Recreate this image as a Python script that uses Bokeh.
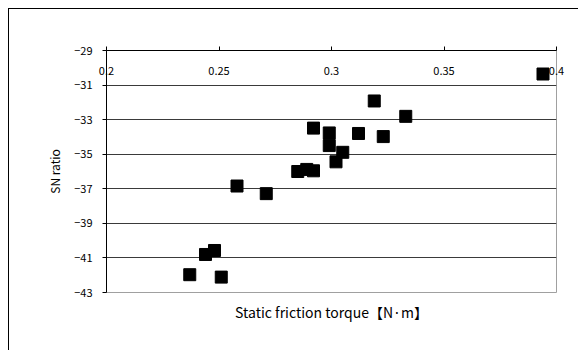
from bokeh.plotting import figure
from bokeh.models import LinearAxis, FixedTicker, Range1d
from bokeh.embed import file_html
from bokeh.resources import INLINE

# data
friction_torque = [0.394, 0.319, 0.333, 0.292, 0.299, 0.312, 0.323, 0.299, 0.305, 0.302,
                   0.285, 0.289, 0.292, 0.258, 0.271, 0.248, 0.244, 0.237, 0.251]
sn_ratio = [-30.36, -31.92, -32.81, -33.49, -33.77, -33.80, -33.98, -34.50, -34.89, -35.44,
            -36.00, -35.88, -35.96, -36.84, -37.28, -40.57, -40.80, -41.97, -42.11]
y_ticks = [-29, -31, -33, -35, -37, -39, -41, -43]
x_ticks = [0.2, 0.25, 0.3, 0.35, 0.4]
x_tick_labels = ["0.2", "0.25", "0.3", "0.35", "0.4"]
x_title = "Static friction torque【N·m】"
y_title = "SN ratio"

FONT = "Noto Sans CJK JP"

p = figure(width=570, height=342, output_backend="svg", toolbar_location=None,
           x_range=Range1d(0.2, 0.4), y_range=Range1d(-43, -29),
           x_axis_location=None, y_axis_location=None,
           min_border_left=97, min_border_right=23, min_border_top=41, min_border_bottom=59)
p.margin = (8, 0, 0, 8)
p.styles = {"border-left": "1px solid black", "border-top": "1px solid black"}
p.outline_line_color = "#a0a0a0"
p.background_fill_color = "white"
p.border_fill_color = "white"

# top x axis with labels inside the frame
xa = LinearAxis(ticker=FixedTicker(ticks=x_ticks),
                major_label_overrides={t: l for t, l in zip(x_ticks, x_tick_labels)})
xa.axis_line_color = "black"
xa.major_tick_out = 4
xa.major_tick_in = 0
xa.minor_tick_line_color = None
xa.major_label_standoff = -28
xa.major_label_text_font = FONT
xa.major_label_text_font_size = "11px"
xa.major_label_text_color = "black"
p.add_layout(xa, "above")

# bottom axis: title only
xb = LinearAxis(ticker=FixedTicker(ticks=[]), axis_label=x_title)
xb.axis_line_color = None
xb.major_tick_line_color = None
xb.minor_tick_line_color = None
xb.major_label_text_font_size = "0px"
xb.axis_label_text_font = FONT
xb.axis_label_text_font_size = "14px"
xb.axis_label_text_font_style = "normal"
xb.axis_label_text_color = "black"
xb.axis_label_standoff = 9
p.add_layout(xb, "below")

ya = LinearAxis(ticker=FixedTicker(ticks=y_ticks),
                major_label_overrides={t: "\u2212" + str(abs(t)) for t in y_ticks},
                axis_label=y_title)
ya.axis_line_color = "black"
ya.major_tick_out = 4
ya.major_tick_in = 0
ya.minor_tick_line_color = None
ya.major_label_standoff = 10
ya.major_label_text_font = FONT
ya.major_label_text_font_size = "11px"
ya.major_label_text_color = "black"
ya.axis_label_text_font = FONT
ya.axis_label_text_font_size = "12px"
ya.axis_label_text_font_style = "normal"
ya.axis_label_text_color = "black"
ya.axis_label_standoff = 8
p.add_layout(ya, "left")

p.xgrid.visible = False
p.ygrid.ticker = FixedTicker(ticks=y_ticks)
p.ygrid.grid_line_color = "#3a3a3a"
p.ygrid.grid_line_width = 1

p.scatter(friction_torque, sn_ratio, marker="square", size=12,
          fill_color="black", line_color="black")

open("out.html", "w").write(file_html(p, INLINE))
